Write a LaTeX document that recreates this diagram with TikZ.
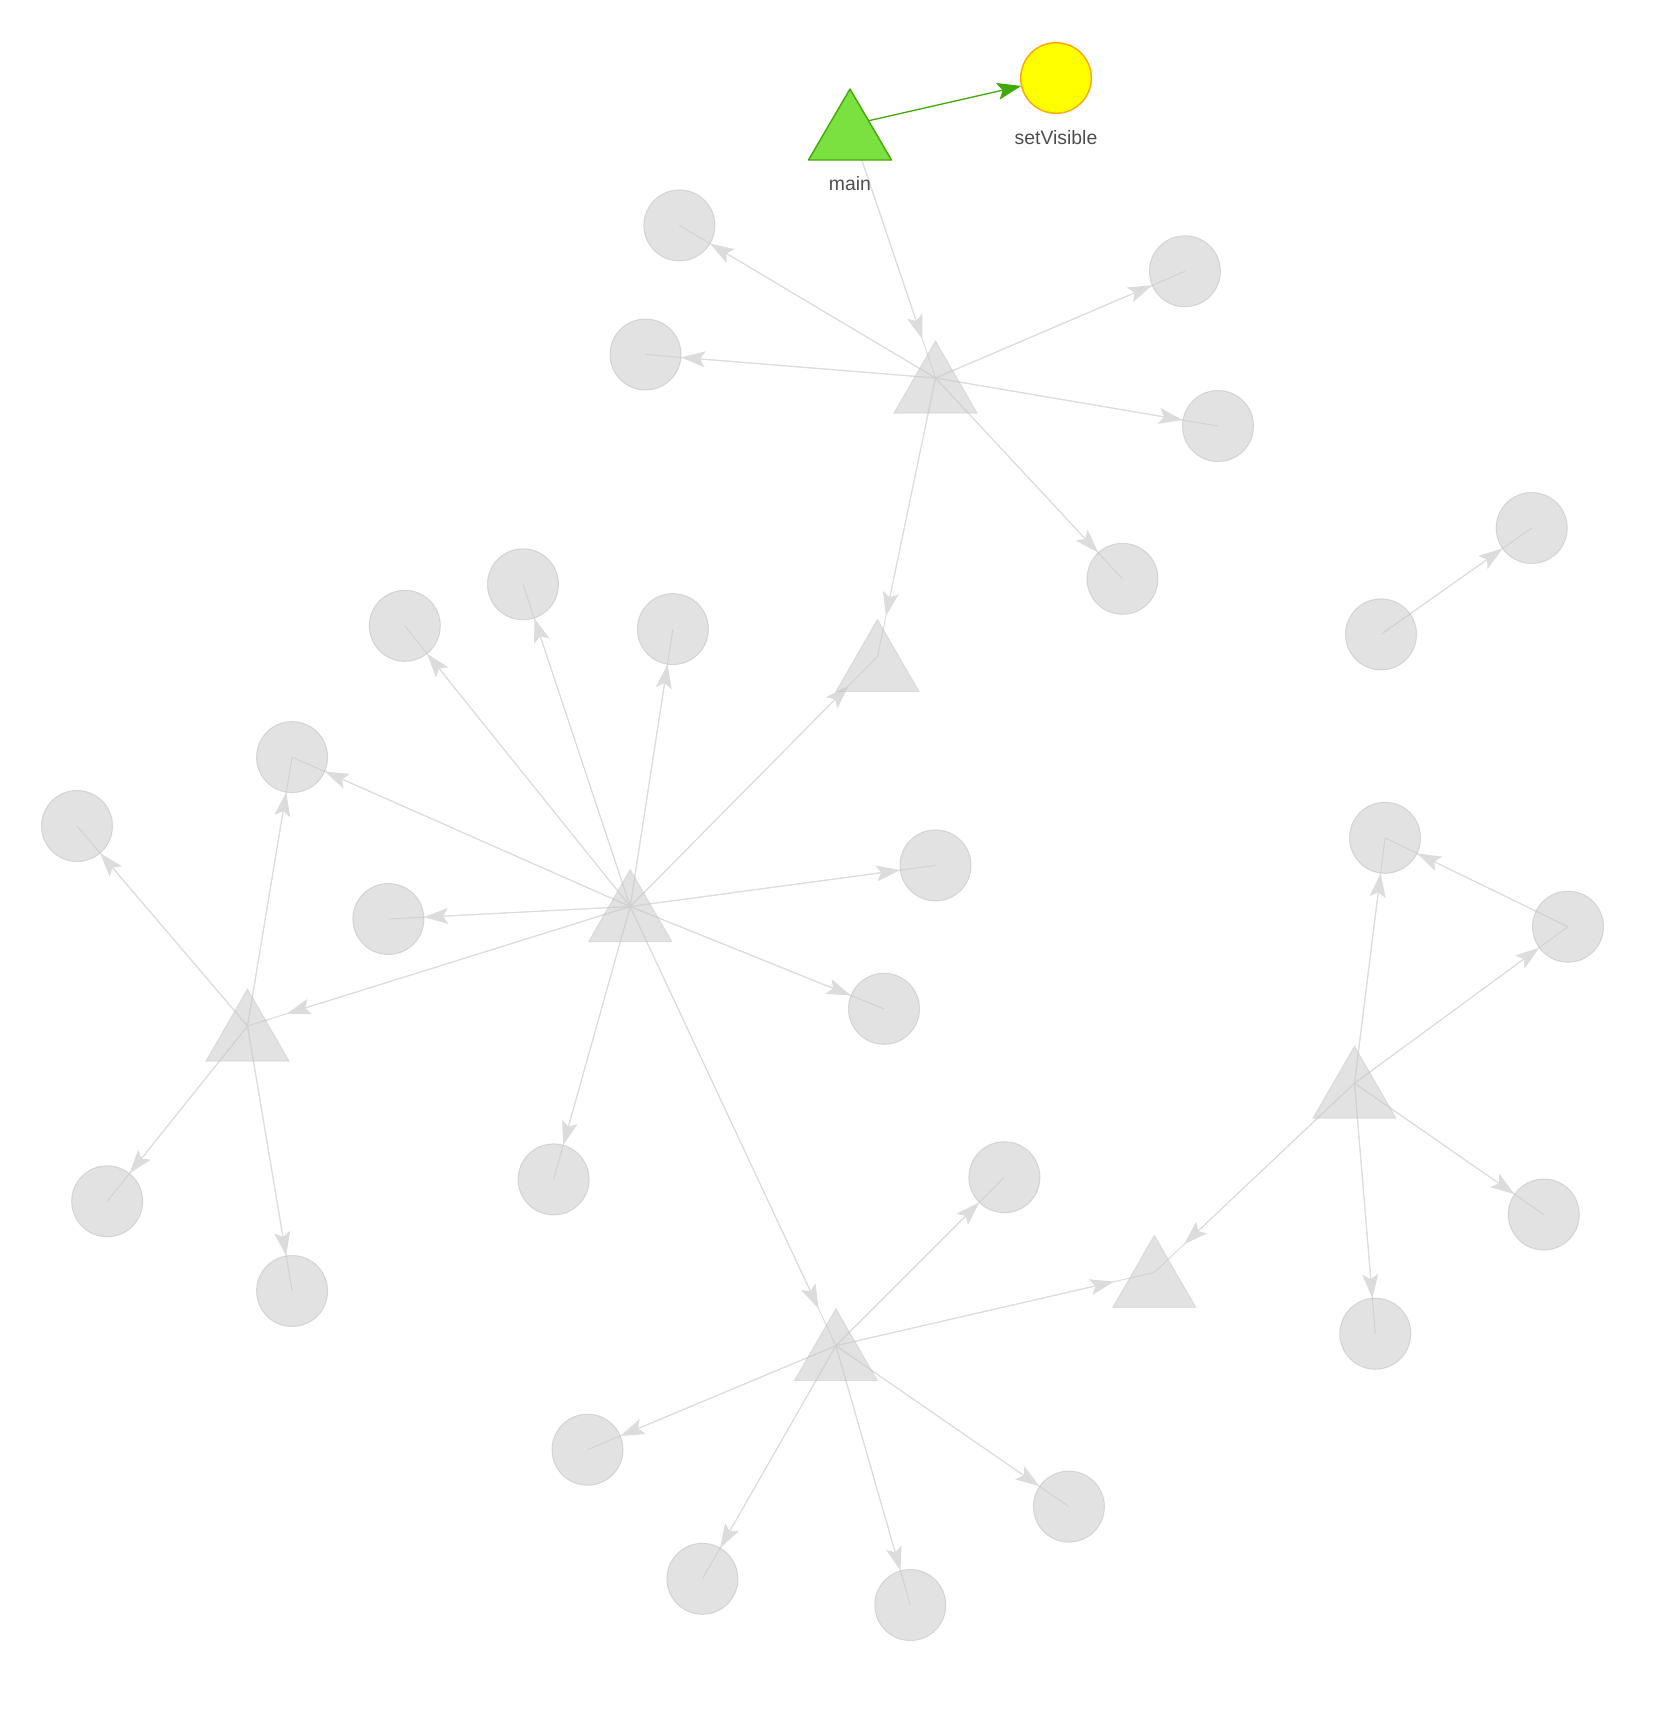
\documentclass[tikz,border=0pt]{standalone}
\usepackage{fontspec}
\setmainfont{Liberation Sans}
\usetikzlibrary{arrows.meta}
\definecolor{edgegray}{HTML}{DCDCDC}
\definecolor{nodegray}{HTML}{C8C8C8}
\definecolor{nodebord}{HTML}{BEBEBE}
\definecolor{mgreen}{HTML}{7BE141}
\definecolor{mgreenb}{HTML}{41A906}
\definecolor{yel}{HTML}{FFFF00}
\definecolor{orangeb}{HTML}{FFA500}
\definecolor{labelgray}{HTML}{4D4D4D}
\newcommand\gedge[2]{\draw[gline] (#1.center) -- (#2.center); \draw[garrow] (#1.center) -- (#2);}
\begin{document}
\begin{tikzpicture}[x=1pt,y=-1pt,
  cnode/.style={circle,minimum size=71pt,inner sep=0pt},
  tnode/.style={circle,minimum size=82pt,inner sep=0pt},
  gline/.style={draw=edgegray,line width=1pt},
  garrow/.style={draw=edgegray,line width=1pt,-{Stealth[length=24pt,width=16pt,inset=5pt]}},
  greenarrow/.style={draw=mgreenb,line width=1.3pt,-{Stealth[length=24pt,width=17pt,inset=5pt]}},
  circshape/.style={fill=nodegray,fill opacity=0.52,draw=nodebord,draw opacity=0.55,line width=1pt},
  trishape/.style={fill=nodegray,fill opacity=0.52,draw=nodebord,draw opacity=0.4,line width=1pt},
  lbl/.style={font=\fontsize{19.4}{23}\selectfont,text=labelgray,inner sep=0pt,anchor=base}]
\useasboundingbox (0,0) rectangle (1662,1716);
% triangle nodes (anchors)
\node[tnode] (T1) at (850,125) {};
\node[tnode] (T2) at (935.5,378) {};
\node[tnode] (T3) at (877.5,656.5) {};
\node[tnode] (T4) at (630.2,906.5) {};
\node[tnode] (T5) at (247.5,1026) {};
\node[tnode] (T6) at (835.9,1345.7) {};
\node[tnode] (T7) at (1154.3,1272.4) {};
\node[tnode] (T8) at (1354.5,1083.2) {};
% circle nodes
\node[cnode] (SV) at (1056,78) {};
\node[cnode] (C1) at (679.4,225.4) {};
\node[cnode] (C2) at (1184.9,271.3) {};
\node[cnode] (C3) at (645.5,354.5) {};
\node[cnode] (C4) at (1218,426) {};
\node[cnode] (C5) at (1122.5,578.8) {};
\node[cnode] (C6) at (1531.7,528) {};
\node[cnode] (C7) at (1381,634.4) {};
\node[cnode] (C8) at (523,584.3) {};
\node[cnode] (C9) at (404.8,625.8) {};
\node[cnode] (C10) at (672.9,629.1) {};
\node[cnode] (C11) at (292.1,757.1) {};
\node[cnode] (C12) at (77,826) {};
\node[cnode] (C13) at (388.4,919) {};
\node[cnode] (C14) at (935.5,865.4) {};
\node[cnode] (C15) at (884,1008.8) {};
\node[cnode] (C16) at (1385,837.8) {};
\node[cnode] (C17) at (1568,926.7) {};
\node[cnode] (C18) at (107.2,1201.3) {};
\node[cnode] (C19) at (292.1,1291) {};
\node[cnode] (C20) at (553.6,1179.4) {};
\node[cnode] (C21) at (1004.4,1177.2) {};
\node[cnode] (C22) at (1543.8,1214.5) {};
\node[cnode] (C23) at (1375.3,1333.7) {};
\node[cnode] (C24) at (587.5,1449.7) {};
\node[cnode] (C25) at (1068.9,1506.6) {};
\node[cnode] (C26) at (702.4,1578.8) {};
\node[cnode] (C27) at (910.3,1605) {};
% edges
\gedge{T1}{T2}
\gedge{T2}{C1}\gedge{T2}{C2}\gedge{T2}{C3}\gedge{T2}{C4}\gedge{T2}{C5}\gedge{T2}{T3}
\gedge{C7}{C6}
\gedge{T4}{C8}\gedge{T4}{C9}\gedge{T4}{C10}\gedge{T4}{C11}\gedge{T4}{T3}\gedge{T4}{C14}
\gedge{T4}{C13}\gedge{T4}{C15}\gedge{T4}{T5}\gedge{T4}{C20}\gedge{T4}{T6}
\gedge{T5}{C12}\gedge{T5}{C11}\gedge{T5}{C18}\gedge{T5}{C19}
\gedge{T6}{C21}\gedge{T6}{T7}\gedge{T6}{C24}\gedge{T6}{C26}\gedge{T6}{C27}\gedge{T6}{C25}
\gedge{T8}{C16}\gedge{T8}{C17}\gedge{T8}{C22}\gedge{T8}{C23}\gedge{T8}{T7}
\gedge{C17}{C16}
\draw[greenarrow] (T1.center) -- (SV);
% visible shapes
\foreach \t in {T2,T3,T4,T5,T6,T7,T8}
  \filldraw[trishape] (\t.center) ++(0,-37) -- ++(41.5,72) -- ++(-83,0) -- cycle;
\foreach \c in {C1,C2,C3,C4,C5,C6,C7,C8,C9,C10,C11,C12,C13,C14,C15,C16,C17,C18,C19,C20,C21,C22,C23,C24,C25,C26,C27}
  \filldraw[circshape] (\c.center) circle[radius=35.5];
\filldraw[fill=mgreen,draw=mgreenb,line width=1.4pt,line join=round] (T1.center) ++(0,-36) -- ++(41.5,71) -- ++(-83,0) -- cycle;
\filldraw[fill=yel,draw=orangeb,line width=1.4pt] (SV.center) circle[radius=35.3];
% labels
\node[lbl] (Lmain) at (850,190.5) {main};
\node[lbl] (Lsv) at (1056,144) {setVisible};
\end{tikzpicture}
\end{document}
